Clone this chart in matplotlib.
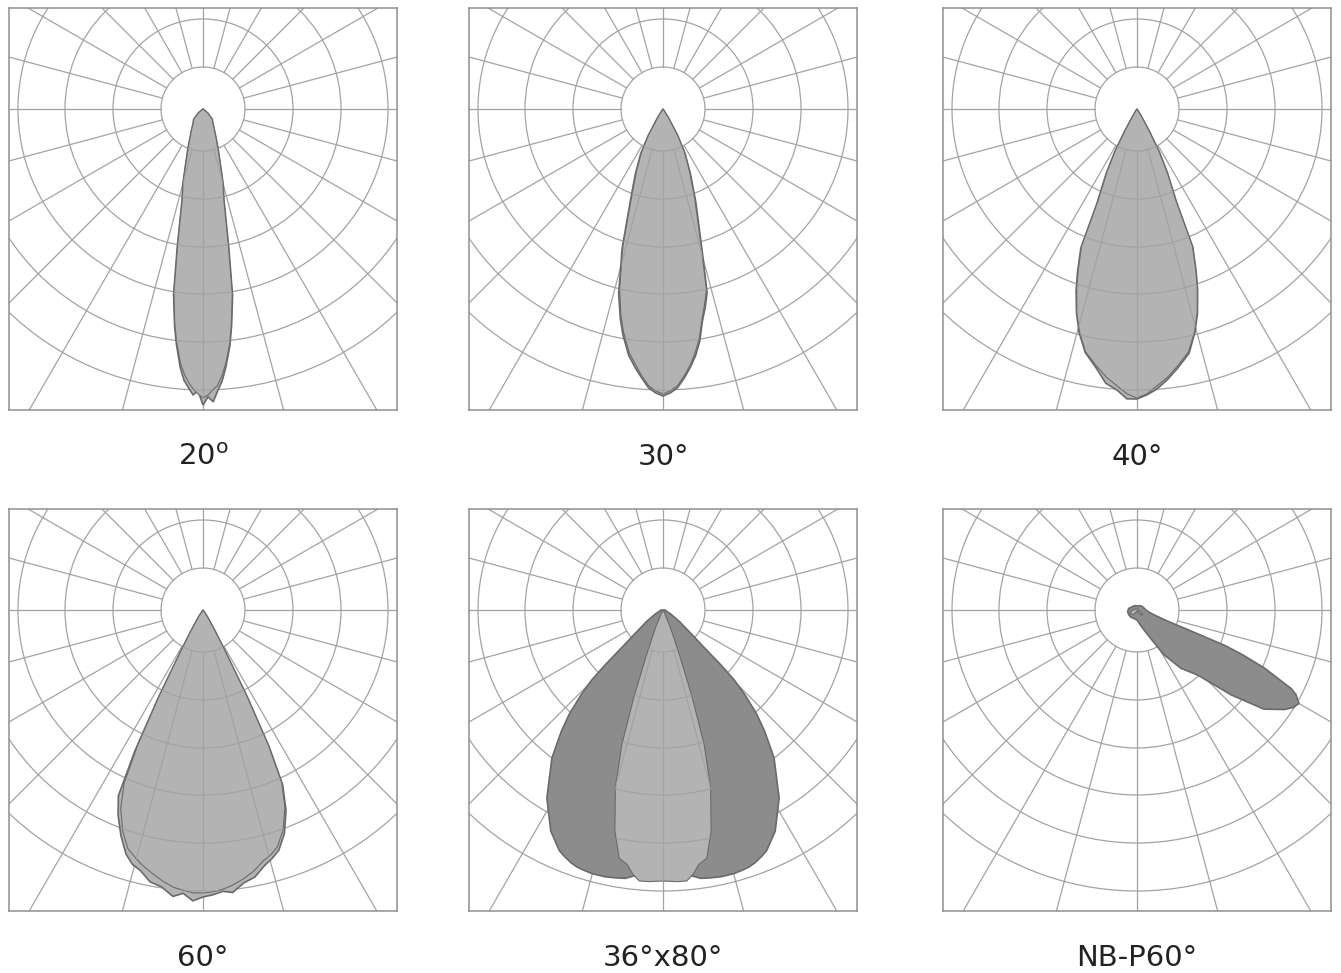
import numpy as np
import matplotlib
matplotlib.use('Agg')
import matplotlib.pyplot as plt
from matplotlib.patches import Circle, Polygon

plt.rcParams['font.family'] = ['DejaVu Sans']

# beam labels
titles = ['20$^\\mathregular{o}$', '30°', '40°', '60°', '36°x80°', 'NB-P60°']

# angles in degrees from nadir (+ = right), intensity in grid units
ang20 = [-70, -50, -42, -35, -30, -25, -21, -17, -15, -13, -10.5, -9, -7.5, -6.5, -5, -4, -3, -2, -1, 0,
         1, 2, 3, 4, 5, 6.5, 7.5, 9, 10.5, 13, 15, 17, 21, 25, 30, 35, 42, 50, 70]
light20 = [0, 6, 14, 17, 22, 30, 41, 60, 77, 92, 140, 186, 216, 234, 256, 266, 274, 280, 285, 289,
           286, 281, 277, 268, 257, 236, 217, 187, 140, 92, 77, 60, 41, 30, 22, 17, 14, 6, 0]
dark20 = [0, 6, 14, 17, 22, 30, 42, 61, 78, 93, 142, 188, 218, 236, 260, 272, 279, 286, 282, 296,
          288, 293, 282, 273, 260, 238, 219, 189, 142, 93, 78, 61, 42, 30, 22, 17, 14, 6, 0]

ang30 = [-40, -32, -29, -26.5, -23, -19.5, -16.3, -14.5, -13.5, -11.5, -10.1, -7.9, -6, -4.5, -3, -1.5, 0,
         1.5, 3, 4.5, 6, 7.5, 9, 10.5, 12, 13.5, 15.5, 19.5, 23, 26.5, 29, 32, 40]
light30 = [0, 10, 30, 48, 68, 95, 143, 168, 186, 211, 226, 246, 258, 268, 277, 282, 285,
           282, 277, 268, 258, 246, 232, 214, 200, 186, 143, 95, 68, 48, 30, 10, 0]
dark30 = [0, 10, 31, 50, 71, 98, 146, 171, 190, 214, 229, 249, 261, 270, 279, 284, 287,
          284, 279, 270, 260, 249, 235, 216, 203, 189, 146, 98, 70, 49, 30, 10, 0]

ang40 = [-40, -31, -29, -27.5, -25.5, -23, -22, -20, -18.5, -16.5, -14.5, -12, -9, -6.5, -4, -2, 0,
         2, 4, 6.5, 9, 12, 14.5, 16.5, 18.5, 20, 22, 23, 25.5, 27.5, 29, 31, 40]
light40 = [0, 8, 25, 47, 70, 100, 148, 172, 190, 212, 230, 248, 260, 270, 278, 285, 289,
           285, 278, 270, 260, 248, 230, 212, 190, 172, 148, 100, 70, 47, 25, 8, 0]
dark40 = [0, 8, 26, 48, 72, 102, 150, 174, 192, 213, 231, 249, 262, 276, 282, 290, 290,
          286, 281, 272, 262, 250, 231, 213, 191, 173, 149, 101, 71, 48, 26, 8, 0]

ang60 = [-45, -33, -30, -28.5, -27, -25.8, -24.5, -22.5, -20, -17.5, -15.5, -13.5, -11, -8.5, -6, -4, -2, 0,
         2, 4, 6, 8.5, 11, 13.5, 15.5, 17.5, 20, 22.5, 24.5, 25.8, 27, 28.5, 30, 33, 45]
light60 = [0, 8, 24, 44, 97, 150, 190, 215, 235, 250, 256, 262, 268, 274, 279, 281, 283, 283,
           282, 280, 277, 272, 266, 258, 254, 248, 234, 214, 190, 150, 97, 44, 24, 8, 0]
dark60 = [0, 8, 24, 44, 98, 156, 204, 222, 240, 256, 264, 268, 277, 280, 288, 284, 291, 287,
          285, 282, 284, 276, 272, 263, 258, 252, 238, 217, 192, 152, 98, 44, 24, 8, 0]

ang3680 = [-90, -75, -62, -55, -50, -47.5, -46.5, -45.5, -44, -42, -40, -36.9, -31.7, -26.9, -23.3, -22, -20,
           -18.5, -17, -15, -12.3, -10, -8, -6.5, -5, -3, 0, 3, 5, 6.5, 8, 10, 12.3, 15, 17, 18.5, 20, 22,
           23.3, 26.9, 31.7, 36.9, 40, 42, 44, 45.5, 46.5, 47.5, 50, 55, 62, 75, 90]
light3680 = [0, 0, 0, 0, 0, 0, 0, 0, 0, 0, 0, 0, 0, 3, 16, 25, 50,
             92, 141, 184, 226, 252, 257, 266, 272, 272, 271, 272, 272, 266, 257, 252, 226, 184, 141, 92, 50, 25,
             16, 3, 0, 0, 0, 0, 0, 0, 0, 0, 0, 0, 0, 0, 0]
dark3680 = [2, 3, 9, 20, 36, 58, 80, 100, 118, 140, 158, 185, 221, 248, 262, 265, 269,
            271, 272, 273, 273, 272, 271, 268, 266, 264, 262, 264, 266, 268, 271, 272, 273, 273, 272, 271, 269, 265,
            262, 248, 221, 185, 158, 140, 118, 100, 80, 58, 36, 20, 9, 3, 2]

angNB = [-180, -150, -120, -100, -80, -60, -40, -20, 0, 10, 20, 25, 31, 37, 43, 48, 52, 56, 58, 60,
         62, 63, 65.5, 67, 68, 68.7, 70, 74, 80, 90, 110, 130, 150, 180]
lightNB = [1, 1, 1.5, 3, 6, 7.5, 6, 2.5, 1, 1, 1.5, 2, 3, 5, 7, 7.5, 7, 5.5, 4.5, 3.5,
           3, 2.5, 2, 2, 1.5, 1.5, 1, 1, 1, 1, 1, 1, 1, 1]
darkNB = [4, 5, 6, 8.5, 9.5, 9.5, 9.5, 9, 10, 14, 22, 30, 52, 73, 89, 127, 161, 178, 184, 187,
          180, 173, 140, 115, 95, 60, 32, 18, 12, 9, 7, 6, 5, 4]

beams = [
    (ang20, light20, dark20, '#b3b3b3'),
    (ang30, light30, dark30, '#b3b3b3'),
    (ang40, light40, dark40, '#b3b3b3'),
    (ang60, light60, dark60, '#b3b3b3'),
    (ang3680, light3680, dark3680, '#8c8c8c'),
    (angNB, lightNB, darkNB, '#8c8c8c'),
]

rings = [42, 90, 138, 185, 233, 281]
spokes = np.arange(0, 360, 15)

grid_col = '#a3a3a3'
edge_col = '#6a6a6a'


def polar_xy(ang, r):
    a = np.radians(np.asarray(ang, dtype=float))
    r = np.asarray(r, dtype=float)
    return np.column_stack([r * np.sin(a), -r * np.cos(a)])


def draw_grid(ax, z, clip=None):
    arts = []
    for r in rings:
        c = Circle((0, 0), r, fill=False, ec=grid_col, lw=0.9, zorder=z)
        ax.add_patch(c)
        arts.append(c)
    for a in spokes:
        p = polar_xy([a, a], [rings[0], 700])
        ln, = ax.plot(p[:, 0], p[:, 1], color=grid_col, lw=0.9, zorder=z)
        arts.append(ln)
    if clip is not None:
        for art in arts:
            art.set_clip_path(clip)


W, H = 1341, 973
fig = plt.figure(figsize=(W / 100, H / 100), dpi=100)

lefts = [9, 469, 943]
tops = [8, 509]
bw, bh = 388, 402
cx, cy = 194, 101

for i, (ang, light, dark, dcol) in enumerate(beams):
    x0 = lefts[i % 3]
    y0 = tops[i // 3]
    ax = fig.add_axes([x0 / W, 1 - (y0 + bh) / H, bw / W, bh / H])
    ax.set_xlim(-cx, bw - cx)
    ax.set_ylim(-(bh - cy), cy)
    ax.set_xticks([])
    ax.set_yticks([])
    for s in ax.spines.values():
        s.set_color('#8f8f8f')
        s.set_linewidth(1.1)

    draw_grid(ax, 1)

    dpoly = Polygon(polar_xy(ang, dark), closed=True, fc=dcol, ec=edge_col, lw=1.2, zorder=2)
    ax.add_patch(dpoly)
    lpoly = Polygon(polar_xy(ang, light), closed=True, fc='#b3b3b3', ec=edge_col, lw=0.8, zorder=3)
    ax.add_patch(lpoly)
    draw_grid(ax, 4, clip=lpoly)

    fig.text((x0 + cx) / W, 1 - (y0 + bh + 47) / H, titles[i], ha='center', va='center',
             fontsize=21, color='#222222')

fig.savefig('out.png', dpi=100)
